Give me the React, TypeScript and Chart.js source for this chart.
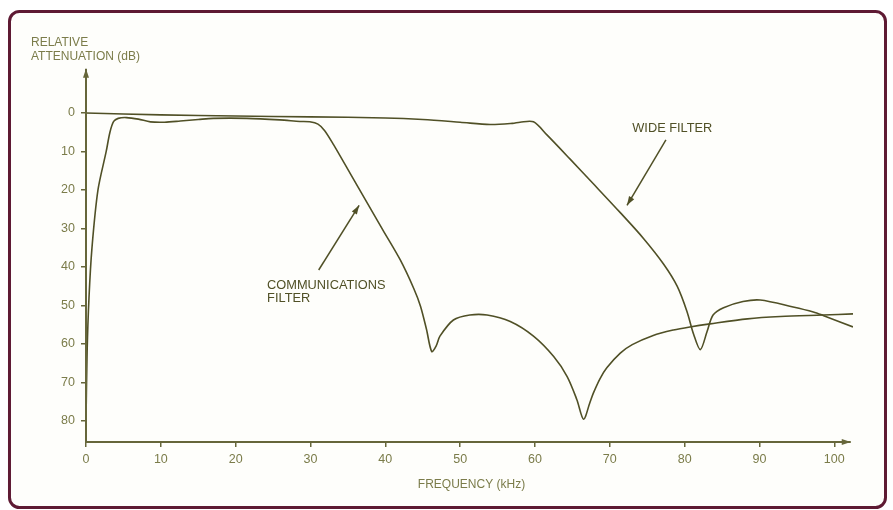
import React, { useEffect, useRef } from "react";
import { Chart, registerables } from "chart.js";
Chart.register(...registerables);

// Communications filter (kHz, dB attenuation)
const commFreq = [0, 0.15, 0.4, 0.8, 1.6, 2.7, 3.2, 3.7, 4.3, 5.4, 7, 8.6, 10.5, 12.6, 15, 17, 21.5, 25.9, 28.6, 29.9, 31.0, 31.9, 33.1, 35.3, 37.5, 39.7, 42.0, 43.8, 44.7, 45.5, 46.2, 46.8, 47.3, 49.1, 51.3, 53.6, 56.7, 59.8, 62.5, 64.3, 65.6, 66.5, 67.3, 67.8, 68.7, 69.6, 71.4, 73, 75.8, 78.5, 80.7, 83.4, 88.4, 92.8, 98.5, 102.5];
const commAtten = [80, 62, 48, 35, 20, 10, 5, 2.2, 1.4, 1.2, 1.6, 2.3, 2.4, 2.1, 1.7, 1.4, 1.4, 1.8, 2.2, 2.3, 2.9, 4.6, 8.3, 15.7, 23.1, 30.5, 38.2, 45.6, 50.2, 56.2, 62.0, 60.5, 58, 53.8, 52.5, 52.5, 54.2, 58, 63.3, 68.5, 74.5, 79.6, 75.5, 72.8, 69.0, 66.2, 62.4, 60.2, 57.8, 56.4, 55.6, 54.8, 53.5, 52.9, 52.5, 52.2];

// Wide filter
const wideFreq = [0, 10, 20, 30, 40, 45, 50, 54, 57, 58, 59.8, 61.6, 64.7, 67.8, 71.4, 74.5, 77.2, 79, 80.3, 81.2, 82.1, 83, 83.8, 85.2, 87.8, 90.1, 94.5, 97.2, 98.5, 102.5];
const wideAtten = [0, 0.5, 0.8, 1.0, 1.3, 1.7, 2.4, 3.0, 2.7, 2.4, 2.3, 5.7, 12.0, 18.4, 25.9, 32.6, 39.3, 45.0, 51.5, 57.5, 61.5, 56.8, 52.5, 50.6, 49, 48.6, 50.4, 51.7, 52.6, 55.6];

const xTicks = [0, 10, 20, 30, 40, 50, 60, 70, 80, 90, 100];
const yTicks = [0, 10, 20, 30, 40, 50, 60, 70, 80];
const yTitle = ["RELATIVE", "ATTENUATION (dB)"];
const xTitle = "FREQUENCY (kHz)";
const wideLabel = ["WIDE FILTER"];
const commLabel = ["COMMUNICATIONS", "FILTER"];

const LINE = "#505026";
const TEXT = "#7b7c4a";
const AXIS = "#66663a";
const FONT = "'Liberation Sans', Arial, sans-serif";

function arrow(ctx: CanvasRenderingContext2D, x1: number, y1: number, x2: number, y2: number, head = 8, w = 3) {
  ctx.beginPath();
  ctx.moveTo(x1, y1);
  ctx.lineTo(x2, y2);
  ctx.stroke();
  const a = Math.atan2(y2 - y1, x2 - x1);
  ctx.beginPath();
  ctx.moveTo(x2, y2);
  ctx.lineTo(x2 - head * Math.cos(a) + w * Math.sin(a), y2 - head * Math.sin(a) - w * Math.cos(a));
  ctx.lineTo(x2 - head * Math.cos(a) - w * Math.sin(a), y2 - head * Math.sin(a) + w * Math.cos(a));
  ctx.closePath();
  ctx.fill();
}

const decor = {
  id: "decor",
  beforeDraw(chart: any) {
    const ctx = chart.ctx as CanvasRenderingContext2D;
    ctx.save();
    ctx.fillStyle = "#ffffff";
    ctx.fillRect(0, 0, chart.width, chart.height);
    // frame
    ctx.fillStyle = "#fefefb";
    ctx.strokeStyle = "#5e1a33";
    ctx.lineWidth = 3;
    const x = 9.5, y = 11.5, w = 876, h = 496, r = 10;
    ctx.beginPath();
    ctx.moveTo(x + r, y);
    ctx.lineTo(x + w - r, y);
    ctx.arcTo(x + w, y, x + w, y + r, r);
    ctx.lineTo(x + w, y + h - r);
    ctx.arcTo(x + w, y + h, x + w - r, y + h, r);
    ctx.lineTo(x + r, y + h);
    ctx.arcTo(x, y + h, x, y + h - r, r);
    ctx.lineTo(x, y + r);
    ctx.arcTo(x, y, x + r, y, r);
    ctx.closePath();
    ctx.fill();
    ctx.stroke();
    ctx.restore();
  },
  afterDraw(chart: any) {
    const ctx = chart.ctx as CanvasRenderingContext2D;
    const xs = chart.scales.x, ys = chart.scales.y;
    const ca = chart.chartArea;
    ctx.save();
    // axes
    ctx.strokeStyle = AXIS;
    ctx.fillStyle = AXIS;
    ctx.lineWidth = 2;
    const x0 = xs.getPixelForValue(0);
    arrow(ctx, x0, ca.bottom, x0, ca.top - 2, 9, 3);
    arrow(ctx, x0, ca.bottom, xs.getPixelForValue(102.2), ca.bottom, 9, 3);

    // axis titles
    ctx.fillStyle = TEXT;
    ctx.font = `12px ${FONT}`;
    ctx.textBaseline = "middle";
    ctx.textAlign = "left";
    ctx.fillText(yTitle[0], 31, 43);
    ctx.fillText(yTitle[1], 31, 57);
    ctx.textAlign = "center";
    ctx.fillText(xTitle, (ca.left + ca.right) / 2 + 2, ca.bottom + 43);

    // annotations
    ctx.font = `12.8px ${FONT}`;
    ctx.textAlign = "left";
    ctx.fillStyle = LINE;
    ctx.fillText(wideLabel[0], xs.getPixelForValue(73), ys.getPixelForValue(3.9));
    ctx.fillText(commLabel[0], xs.getPixelForValue(24.2), ys.getPixelForValue(44.9));
    ctx.fillText(commLabel[1], xs.getPixelForValue(24.2), ys.getPixelForValue(48.1));
    ctx.strokeStyle = LINE;
    ctx.fillStyle = LINE;
    ctx.lineWidth = 1.5;
    arrow(ctx, xs.getPixelForValue(77.5), ys.getPixelForValue(7.0), xs.getPixelForValue(72.3), ys.getPixelForValue(24.0), 9, 3);
    arrow(ctx, xs.getPixelForValue(31.1), ys.getPixelForValue(40.8), xs.getPixelForValue(36.5), ys.getPixelForValue(24.0), 9, 3);
    ctx.restore();
  },
};

export default function App() {
  const ref = useRef<HTMLCanvasElement>(null);
  useEffect(() => {
    if (!ref.current) return;
    const chart = new Chart(ref.current, {
      type: "line",
      data: {
        datasets: [
          {
            label: "Communications filter",
            data: commFreq.map((f, i) => ({ x: f, y: commAtten[i] })),
            borderColor: LINE,
            borderWidth: 1.6,
            pointRadius: 0,
            tension: 0.3,
            fill: false,
          },
          {
            label: "Wide filter",
            data: wideFreq.map((f, i) => ({ x: f, y: wideAtten[i] })),
            borderColor: LINE,
            borderWidth: 1.6,
            pointRadius: 0,
            tension: 0.3,
            fill: false,
          },
        ],
      },
      options: {
        animation: false,
        responsive: false,
        devicePixelRatio: 1,
        layout: { padding: { left: 0, right: 40, top: 70.65, bottom: 0 } },
        plugins: { legend: { display: false }, tooltip: { enabled: false }, title: { display: false } },
        scales: {
          x: {
            type: "linear",
            min: 0,
            max: 102.5,
            afterBuildTicks: (s: any) => { s.ticks = xTicks.map((v) => ({ value: v })); },
            afterFit: (s: any) => { s.height = 68; },
            border: { display: false },
            grid: { drawOnChartArea: false, drawTicks: true, tickLength: 5, color: AXIS, lineWidth: 1.5 },
            ticks: { color: TEXT, font: { family: FONT, size: 12.5 }, padding: 5, maxRotation: 0, autoSkip: false },
          },
          y: {
            type: "linear",
            reverse: true,
            min: -11,
            max: 85.5,
            afterBuildTicks: (s: any) => { s.ticks = yTicks.map((v) => ({ value: v })); },
            afterFit: (s: any) => { s.width = 86; },
            border: { display: false },
            grid: { drawOnChartArea: false, drawTicks: true, tickLength: 5, color: AXIS, lineWidth: 1.5 },
            ticks: { color: TEXT, font: { family: FONT, size: 12.5 }, padding: 6, autoSkip: false },
          },
        },
      },
      plugins: [decor],
    } as any);
    return () => chart.destroy();
  }, []);
  return (
    <div style={{ position: "absolute", left: 0, top: 0, width: 893, height: 510 }}>
      <canvas ref={ref} width={893} height={510} />
    </div>
  );
}
